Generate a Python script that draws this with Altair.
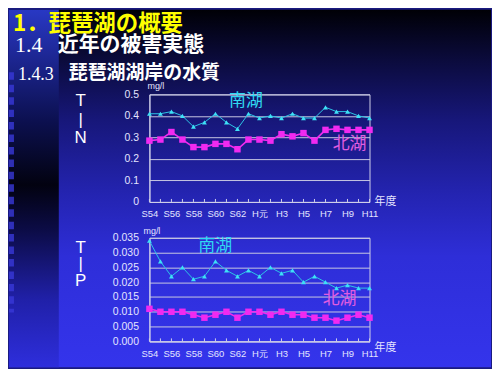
import altair as alt
import pandas as pd

years = ["S54", "S55", "S56", "S57", "S58", "S59", "S60", "S61", "S62", "S63",
         "H元", "H2", "H3", "H4", "H5", "H6", "H7", "H8", "H9", "H10", "H11"]
label_years = ["S54", "S56", "S58", "S60", "S62", "H元", "H3", "H5", "H7", "H9", "H11"]

tn_south = [0.41, 0.41, 0.42, 0.40, 0.35, 0.37, 0.41, 0.37, 0.34, 0.41, 0.39,
            0.40, 0.39, 0.41, 0.39, 0.39, 0.44, 0.42, 0.42, 0.40, 0.39]
tn_north = [0.285, 0.29, 0.325, 0.29, 0.255, 0.255, 0.27, 0.27, 0.245, 0.29, 0.29,
            0.285, 0.315, 0.305, 0.32, 0.285, 0.335, 0.34, 0.335, 0.335, 0.335]
tp_south = [0.034, 0.027, 0.022, 0.025, 0.021, 0.022, 0.027, 0.024, 0.022, 0.024, 0.022,
            0.025, 0.023, 0.024, 0.020, 0.022, 0.020, 0.018, 0.019, 0.018, 0.018]
tp_north = [0.011, 0.010, 0.010, 0.010, 0.009, 0.008, 0.009, 0.010, 0.008, 0.010, 0.010,
            0.009, 0.010, 0.009, 0.009, 0.008, 0.008, 0.007, 0.008, 0.009, 0.008]

tn_ticks = [0, 0.1, 0.2, 0.3, 0.4, 0.5]
tp_ticks = [0, 0.005, 0.010, 0.015, 0.020, 0.025, 0.030, 0.035]

W = 221
H1 = 108
H2 = 104

CYAN_LINE = "#2cc4e6"
CYAN_PT = "#3ee0f6"
MAG = "#f02af0"
LBL = "#e4e4ff"
JP = "Noto Sans CJK JP"

one = pd.DataFrame({"k": [0]})


def txt(text, x, y, size, color, font=JP, weight="normal", align="left",
        baseline="alphabetic", line_height=None):
    kw = dict(text=text, font=font, fontSize=size, color=color, fontWeight=weight,
              align=align, baseline=baseline)
    if line_height is not None:
        kw["lineHeight"] = line_height
    return alt.Chart(one).mark_text(**kw).encode(x=alt.value(x), y=alt.value(y))


def series_df(vals):
    return pd.DataFrame({"year": years, "v": vals, "i": list(range(len(years)))})


# ---------- background / header panel (origin at page 149,56) ----------
main_grad = alt.Gradient(
    gradient="linear", x1=0, x2=0, y1=0, y2=1,
    stops=[alt.GradientStop(offset=0, color="#000006"),
           alt.GradientStop(offset=0.14, color="#0b0b3c"),
           alt.GradientStop(offset=0.31, color="#17177a"),
           alt.GradientStop(offset=0.52, color="#2424b2"),
           alt.GradientStop(offset=0.69, color="#2e2ed8"),
           alt.GradientStop(offset=1, color="#3434ec")])
strip_grad = alt.Gradient(
    gradient="linear", x1=0, x2=0, y1=0, y2=1,
    stops=[alt.GradientStop(offset=0, color="#2838c4"),
           alt.GradientStop(offset=0.12, color="#1e2898"),
           alt.GradientStop(offset=0.31, color="#0c1050"),
           alt.GradientStop(offset=0.49, color="#020210"),
           alt.GradientStop(offset=0.62, color="#0c0c48"),
           alt.GradientStop(offset=0.81, color="#2020a8"),
           alt.GradientStop(offset=1, color="#2e2edc")])

BG_LEFT = -141
BG_RIGHT = 343
BG_TOP = -48
BG_BOT = 311

bg_main = alt.Chart(one).mark_rect(color=main_grad).encode(
    x=alt.value(BG_LEFT), x2=alt.value(BG_RIGHT), y=alt.value(BG_TOP), y2=alt.value(BG_BOT))
bg_strip = alt.Chart(one).mark_rect(color=strip_grad).encode(
    x=alt.value(BG_LEFT), x2=alt.value(-91), y=alt.value(BG_TOP), y2=alt.value(BG_BOT))
squares = alt.Chart(one).mark_rule(color="#3838d8", opacity=0.8, strokeWidth=5,
                                   strokeDash=[7.5, 5]).encode(
    x=alt.value(-138.5), y=alt.value(14.8), y2=alt.value(256))

header = alt.layer(
    bg_main, bg_strip, squares,
    txt("1．琵琶湖の概要", -137, -27, 22.5, "#ffff00", weight="bold"),
    txt("1.4", -135, -6, 22, "#ffffff", font="Liberation Serif"),
    txt("近年の被害実態", -92, -7, 21, "#ffffff", weight="bold"),
    txt("1.4.3", -132, 23, 18, "#ffffff", font="Liberation Serif"),
    txt("琵琶湖湖岸の水質", -81, 22, 19, "#ffffff", weight="bold"),
).properties(width=W, height=1, view=alt.ViewBackground(stroke="transparent"))


def panel(south, north, domain, ticks, fmt, H, letters, lh, fy, mg_xy, s_xy, n_xy, nen_y):
    x_enc = alt.X("year:N", sort=years, title="",
                  scale=alt.Scale(type="point", padding=0),
                  axis=alt.Axis(values=label_years, labelAngle=0, labelOverlap=False,
                                labelPadding=7, labelFontSize=9.5, grid=False,
                                ticks=False, tickSize=0, labelFlush=False))
    y_enc = alt.Y("v:Q", title="",
                  scale=alt.Scale(domain=domain, nice=False, zero=True),
                  axis=alt.Axis(values=ticks, format=fmt, grid=True, ticks=False,
                                tickSize=0, labelPadding=11, labelFontSize=10.5))
    ds = series_df(south)
    dn = series_df(north)
    tick_df = pd.DataFrame({"year": years})
    tick_rules = alt.Chart(tick_df).mark_rule(color="#d0d0ea", strokeWidth=1).encode(
        x=x_enc, y=alt.value(H), y2=alt.value(H - 3))
    line_n = alt.Chart(dn).mark_line(color=MAG, strokeWidth=1.6).encode(
        x=x_enc, y=y_enc, order="i:Q")
    pts_n = alt.Chart(dn).mark_point(shape="square", filled=True, size=42, color=MAG,
                                     opacity=1).encode(x=x_enc, y=y_enc)
    line_s = alt.Chart(ds).mark_line(color=CYAN_LINE, strokeWidth=1).encode(
        x=x_enc, y=y_enc, order="i:Q")
    pts_s = alt.Chart(ds).mark_point(shape="triangle-up", filled=True, size=24,
                                     color=CYAN_PT, opacity=1).encode(x=x_enc, y=y_enc)
    return alt.layer(
        tick_rules, line_n, pts_n, line_s, pts_s,
        txt(letters, -69, fy, 17, "#ffffff", font="Liberation Sans", align="center",
            line_height=lh),
        txt("mg/l", mg_xy[0], mg_xy[1], 9, LBL, font="Liberation Sans"),
        txt("南湖", s_xy[0], s_xy[1], 17, "#30d8f2"),
        txt("北湖", n_xy[0], n_xy[1], 17, "#e05ce0"),
        txt("年度", 226, nen_y, 11, LBL, baseline="middle"),
    ).properties(width=W, height=H)


tin = panel(tn_south, tn_north, [0, 0.5], tn_ticks, "~g", H1, ["T", "|", "N"], 18.5, 12,
            (-2, -5), (80, 12), (184, 55), 108)
tp = panel(tp_south, tp_north, [0, 0.035], tp_ticks, ".3f", H2, ["T", "|", "P"], 16.5, 15,
           (-6, -4), (49, 13), (174, 66), 111)

chart = alt.vconcat(header, tin, tp, spacing=36, bounds="flush").properties(
    padding=0, background="#1a1a80"
).configure_view(stroke="#d0d0ea", strokeWidth=1).configure_axis(
    domainColor="#d0d0ea", domainWidth=1, gridColor="#c8c8e2", gridWidth=1,
    labelColor=LBL, labelFont="Liberation Sans"
)

chart.save("out.html", embed_options={"renderer": "svg", "actions": False})
